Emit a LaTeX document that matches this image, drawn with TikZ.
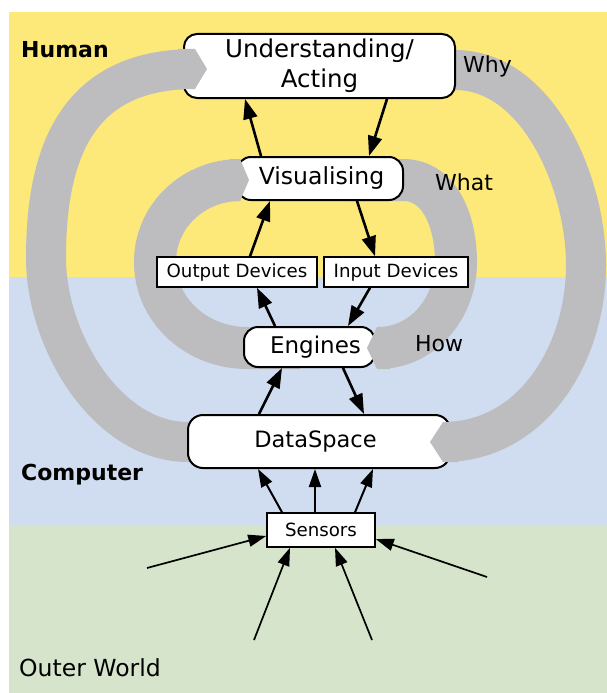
\documentclass[tikz,border=0pt]{standalone}
\usepackage{fontspec}
\setmainfont{DejaVu Sans}
\usetikzlibrary{arrows.meta}
\definecolor{yellowbg}{RGB}{253,232,122}
\definecolor{bluebg}{RGB}{208,220,240}
\definecolor{greenbg}{RGB}{213,228,202}
\definecolor{ringgray}{RGB}{189,189,192}
\newcommand\fsUnd{\fontsize{24.5}{30}\selectfont}
\newcommand\fsVis{\fontsize{23.5}{26}\selectfont}
\newcommand\fsEng{\fontsize{23}{26}\selectfont}
\newcommand\fsDat{\fontsize{22.5}{26}\selectfont}
\newcommand\fsDev{\fontsize{18.2}{20}\selectfont}
\newcommand\fsLab{\fontsize{22}{25}\selectfont}
\newcommand\fsOut{\fontsize{23.5}{26}\selectfont}
\tikzset{
  rbox/.style={draw=black, line width=2pt, fill=white, rounded corners=13pt, inner sep=0pt, align=center},
  sbox/.style={draw=black, line width=1.5pt, fill=white, inner sep=0pt},
  ringband/.style={draw=ringgray, line width=#1},
  ringhead/.style={fill=ringgray},
  mainarr/.style={-{Triangle[length=20pt,width=14pt]}, line width=2.6pt},
  subarr/.style={-{Triangle[length=18pt,width=12pt]}, line width=2pt},
  inarr/.style={-{Triangle[length=18pt,width=12pt]}, line width=1.7pt},
  lab/.style={inner sep=0pt, anchor=base west},
}
\begin{document}
\begin{tikzpicture}[x=1pt,y=-1pt]
\useasboundingbox (0,0) rectangle (607,693);
% backgrounds
\fill[white] (0,0) rectangle (607,693);
\fill[yellowbg] (9,12) rectangle (607,277);
\fill[bluebg] (9,277) rectangle (607,525);
\fill[greenbg] (9,525) rectangle (607,693);
% ring bodies
\draw[ringband=40pt] (260,442) -- (188,442) to[out=180,in=-90,looseness=0.9] (46,258) to[out=90,in=180,looseness=1.2] (195,69);
\draw[ringband=40pt] (400,70) -- (455,70) to[out=0,in=90,looseness=0.9] (586,265) to[out=-90,in=0] (443,442);
\draw[ringband=42pt] (300,348) -- (247,348) to[out=180,in=-90] (155,262) to[out=90,in=180] (240,180);
\draw[ringband=42pt] (350,180) -- (403,180) to[out=0,in=90] (456,262) to[out=-90,in=0] (378,348);
% labels
\node[lab, font=\bfseries\fsLab] (human) at (21,58) {Human};
\node[lab, font=\bfseries\fsLab] (comp) at (21,480) {Computer};
\node[lab, font=\fsOut] (outer) at (19,676) {Outer World};
\node[lab, font=\fsLab] (why) at (463,72) {Why};
\node[lab, font=\fsLab] (what) at (435,190) {What};
\node[lab, font=\fsLab] (how) at (415,351) {How};
% boxes
\node[rbox, minimum width=271pt, minimum height=64pt, font=\fsUnd] (und) at (319.5,66) {Understanding/\\Acting};
\node[rbox, rounded corners=14pt, minimum width=166pt, minimum height=43pt, font=\fsVis] (vis) at (320,178.5) {\hspace*{3pt}Visualising};
\node[sbox, minimum width=160pt, minimum height=30pt, font=\fsDev] (outd) at (237,272) {Output Devices};
\node[sbox, minimum width=144pt, minimum height=30pt, font=\fsDev] (ind) at (396,272) {Input Devices};
\node[rbox, rounded corners=14pt, minimum width=131pt, minimum height=40pt, font=\fsEng] (eng) at (309.5,347) {\hspace*{12pt}Engines};
\node[rbox, rounded corners=15pt, minimum width=262pt, minimum height=53pt, font=\fsDat] (data) at (319,441.5) {DataSpace\hspace*{7pt}};
\node[sbox, minimum width=108pt, minimum height=34pt, font=\fsDev] (sens) at (321,530) {Sensors};
% ring heads over the boxes
\fill[ringhead] (178,49) -- (195,49) -- (207,69) -- (195,89) -- (178,89) -- cycle;
\fill[ringhead] (230,159) -- (240,159) -- (249,180) -- (240,201) -- (230,201) -- cycle;
\fill[ringhead] (390,327) -- (377,327) -- (367,348) -- (377,369) -- (390,369) -- cycle;
\fill[ringhead] (458,422) -- (443,422) -- (430,442) -- (443,462) -- (458,462) -- cycle;
% arrows between boxes
\draw[mainarr] ([xshift=-59pt]vis.north) -- ([xshift=-74.5pt]und.south);
\draw[mainarr] ([xshift=67.5pt]und.south) -- ([xshift=49pt]vis.north);
\draw[mainarr] ([xshift=13pt]outd.north) -- ([xshift=-50pt]vis.south);
\draw[mainarr] ([xshift=37pt]vis.south) -- ([xshift=-21pt]ind.north);
\draw[mainarr] ([xshift=-34.5pt]eng.north) -- ([xshift=20pt]outd.south);
\draw[mainarr] ([xshift=-26pt]ind.south) -- ([xshift=38.5pt]eng.north);
\draw[mainarr] ([xshift=-60pt]data.north) -- ([xshift=-27.5pt]eng.south);
\draw[mainarr] ([xshift=33.5pt]eng.south) -- ([xshift=45pt]data.north);
% sensors to dataspace
\draw[subarr] ([xshift=-39pt]sens.north) -- ([xshift=-61pt]data.south);
\draw[subarr] ([xshift=-6pt]sens.north) -- ([xshift=-4pt]data.south);
\draw[subarr] ([xshift=34pt]sens.north) -- ([xshift=54pt]data.south);
% outer world to sensors
\coordinate (w1) at (147,568);
\coordinate (w2) at (254,640);
\coordinate (w3) at (372,640);
\coordinate (w4) at (487,577);
\draw[inarr] (w1) -- ([yshift=-6pt]sens.west);
\draw[inarr] (w2) -- ([xshift=-31pt]sens.south);
\draw[inarr] (w3) -- ([xshift=14pt]sens.south);
\draw[inarr] (w4) -- ([yshift=-9pt]sens.east);
\end{tikzpicture}
\end{document}
